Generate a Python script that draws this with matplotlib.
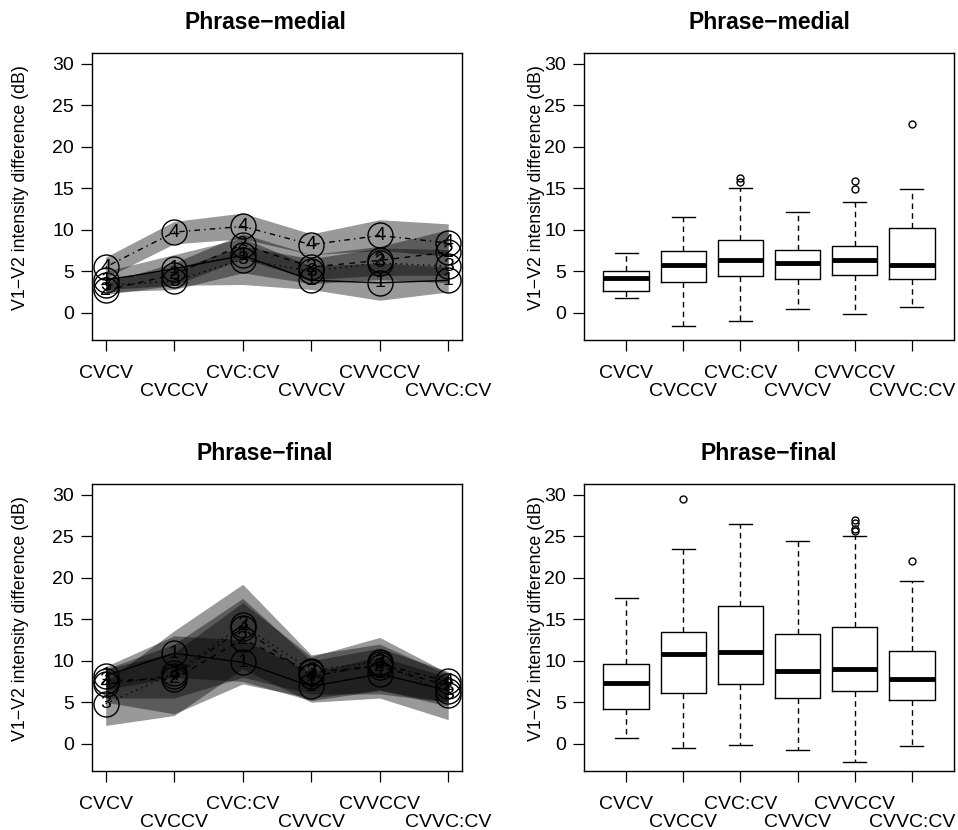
"""
V1-V2 intensity difference by word structure: per-speaker means with bands
(left) and pooled boxplots (right), phrase-medial vs phrase-final.
"""

import matplotlib
matplotlib.use("Agg")
import matplotlib.pyplot as plt

plt.rcParams["font.family"] = ["Liberation Sans", "DejaVu Sans"]

CATEGORIES = ["CVCV", "CVCCV", "CVC:CV", "CVVCV", "CVVCCV", "CVVC:CV"]
SPEAKERS = ["1", "2", "3", "4"]
YTICKS = [0, 5, 10, 15, 20, 25, 30]
YLABEL = "V1\u2212V2 intensity difference (dB)"

# speaker means, one row per speaker (1..4)
MEDIAL_MEAN = [
    [3.9, 5.3, 6.9, 3.9, 3.6, 3.9],
    [2.7, 4.6, 8.2, 5.5, 6.3, 7.3],
    [3.3, 3.8, 6.4, 5.0, 6.0, 5.6],
    [5.5, 9.7, 10.4, 8.2, 9.3, 8.4],
]
MEDIAL_LO = [
    [2.8, 3.3, 3.4, 2.8, 1.5, 2.5],
    [2.2, 3.3, 6.5, 4.0, 4.5, 4.5],
    [2.5, 2.8, 4.8, 3.5, 4.0, 3.6],
    [4.2, 8.3, 8.9, 7.0, 7.5, 6.8],
]
MEDIAL_HI = [
    [5.0, 7.0, 9.0, 5.6, 6.0, 5.5],
    [3.6, 6.0, 9.5, 7.0, 8.0, 10.0],
    [4.2, 5.2, 8.0, 6.5, 7.8, 7.6],
    [6.7, 11.0, 12.0, 9.5, 11.2, 10.7],
]

FINAL_MEAN = [
    [8.2, 10.9, 9.8, 6.9, 8.4, 6.4],
    [7.6, 7.8, 12.6, 8.6, 9.3, 7.0],
    [4.8, 8.5, 14.3, 8.8, 9.9, 5.9],
    [7.2, 8.2, 13.9, 8.1, 9.6, 7.5],
]
FINAL_LO = [
    [6.5, 8.0, 7.5, 5.2, 6.4, 5.0],
    [5.5, 5.5, 8.0, 6.0, 6.0, 5.0],
    [2.2, 3.4, 9.0, 5.0, 5.5, 2.9],
    [5.0, 3.6, 7.2, 5.5, 6.5, 4.5],
]
FINAL_HI = [
    [9.3, 13.0, 12.5, 8.6, 10.5, 8.0],
    [9.0, 11.0, 17.0, 10.5, 12.8, 8.5],
    [7.5, 13.6, 19.2, 10.7, 12.0, 8.3],
    [9.0, 12.0, 17.5, 10.0, 11.5, 8.7],
]

# boxplot summaries (whisker low, q1, median, q3, whisker high, outliers)
MEDIAL_WLO = [1.8, -1.55, -0.96, 0.4, -0.2, 0.67]
MEDIAL_Q1 = [2.6, 3.7, 4.4, 4.1, 4.5, 4.1]
MEDIAL_MED = [4.2, 5.7, 6.3, 6.0, 6.4, 5.8]
MEDIAL_Q3 = [5.0, 7.4, 8.8, 7.6, 8.0, 10.15]
MEDIAL_WHI = [7.2, 11.5, 15.05, 12.1, 13.3, 14.85]
MEDIAL_OUT = [[], [], [15.8, 16.2], [], [14.85, 15.85], [22.7]]

FINAL_WLO = [0.7, -0.5, -0.15, -0.8, -2.25, -0.3]
FINAL_Q1 = [4.2, 6.15, 7.15, 5.55, 6.4, 5.25]
FINAL_MED = [7.27, 10.8, 11.05, 8.8, 9.0, 7.8]
FINAL_Q3 = [9.55, 13.5, 16.6, 13.2, 14.0, 11.2]
FINAL_WHI = [17.5, 23.5, 26.5, 24.45, 25.0, 19.55]
FINAL_OUT = [[], [29.5], [], [], [25.6, 25.9, 26.6, 26.9], [22.05]]

LINESTYLES = ["-", (0, (4, 4)), (0, (1, 3)), (0, (1, 3, 4, 3))]
FS = 14
X = list(range(1, len(CATEGORIES) + 1))
XLABELS = [c if i % 2 == 0 else "\n" + c for i, c in enumerate(CATEGORIES)]


def style_axes(ax, xlim, title, title_x, ylab_x):
    ax.set_xlim(*xlim)
    ax.set_ylim(-3.28, 31.28)
    ax.set_yticks(YTICKS)
    ax.set_xticks(X)
    ax.set_xticklabels(XLABELS)
    for lab in ax.get_xticklabels():
        lab.set_linespacing(1.05)
    ax.tick_params(length=8, width=0.9, labelsize=FS, pad=5)
    ax.tick_params(axis="x", pad=10)
    for sp in ax.spines.values():
        sp.set_linewidth(1.0)
    ax.set_title(title, fontsize=16.5, fontweight="bold", pad=17, x=title_x)
    ax.set_ylabel(YLABEL, fontsize=12.8)
    ax.yaxis.set_label_coords(ylab_x, 0.53)


def draw_means(ax, mean, lo, hi, title):
    for s in range(len(SPEAKERS)):
        ax.fill_between(X, lo[s], hi[s], color="black", alpha=0.4, lw=0)
    for s, spk in enumerate(SPEAKERS):
        ax.plot(X, mean[s], color="black", lw=1, linestyle=LINESTYLES[s])
        ax.plot(X, mean[s], linestyle="none", marker="o", ms=18,
                mfc="none", mec="black", mew=1)
        for xi, yi in zip(X, mean[s]):
            ax.text(xi, yi, spk, ha="center", va="center", fontsize=14)
    style_axes(ax, (0.8, 6.2), title, 0.468, -0.17)


def draw_boxes(ax, wlo, q1, med, q3, whi, out, title):
    stats = []
    for i in range(len(CATEGORIES)):
        stats.append({"whislo": wlo[i], "q1": q1[i], "med": med[i],
                      "q3": q3[i], "whishi": whi[i], "fliers": out[i]})
    ax.bxp(stats, positions=X, widths=0.8, capwidths=0.4,
           boxprops=dict(color="black", lw=1),
           medianprops=dict(color="black", lw=3.5, solid_capstyle="butt"),
           whiskerprops=dict(color="black", lw=1, linestyle=(0, (4, 3))),
           capprops=dict(color="black", lw=1),
           flierprops=dict(marker="o", ms=5, mfc="none", mec="black", mew=1))
    style_axes(ax, (0.26, 6.74), title, 0.5, -0.105)


fig = plt.figure(figsize=(9.58, 8.30), dpi=100)
ax_tl = fig.add_axes([0.0960, 0.5904, 0.3862, 0.3458])
ax_tr = fig.add_axes([0.6096, 0.5904, 0.3862, 0.3458])
ax_bl = fig.add_axes([0.0960, 0.0711, 0.3862, 0.3458])
ax_br = fig.add_axes([0.6096, 0.0711, 0.3862, 0.3458])

draw_means(ax_tl, MEDIAL_MEAN, MEDIAL_LO, MEDIAL_HI, "Phrase\u2212medial")
draw_boxes(ax_tr, MEDIAL_WLO, MEDIAL_Q1, MEDIAL_MED, MEDIAL_Q3, MEDIAL_WHI,
           MEDIAL_OUT, "Phrase\u2212medial")
draw_means(ax_bl, FINAL_MEAN, FINAL_LO, FINAL_HI, "Phrase\u2212final")
draw_boxes(ax_br, FINAL_WLO, FINAL_Q1, FINAL_MED, FINAL_Q3, FINAL_WHI,
           FINAL_OUT, "Phrase\u2212final")

fig.savefig("out.png", dpi=100)
